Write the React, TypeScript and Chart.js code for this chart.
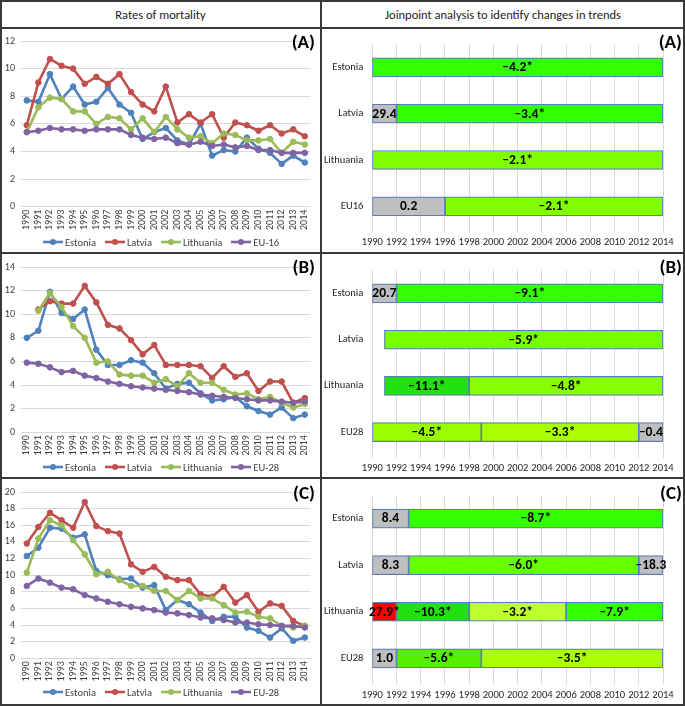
import React, { useEffect, useRef } from 'react';
import { Chart, registerables } from 'chart.js';

Chart.register(...registerables);

// ---------- DATA ----------
const years = ['1990','1991','1992','1993','1994','1995','1996','1997','1998','1999','2000','2001','2002','2003','2004','2005','2006','2007','2008','2009','2010','2011','2012','2013','2014'];
const seriesNames = ['Estonia', 'Latvia', 'Lithuania'];

// Panel A
const estoniaA = [7.7,7.6,9.6,7.8,8.7,7.4,7.6,8.6,7.4,6.8,4.9,5.4,5.7,4.8,4.5,6.0,3.7,4.1,4.0,5.0,4.2,3.9,3.1,3.7,3.2];
const latviaA = [5.9,9.0,10.7,10.2,10.0,8.9,9.4,8.9,9.6,8.3,7.4,6.9,8.7,6.1,6.7,6.1,6.7,5.0,6.1,5.9,5.5,5.9,5.3,5.6,5.1];
const lithuaniaA = [5.4,7.2,7.9,7.8,6.9,6.9,6.0,6.5,6.4,5.6,6.4,5.4,6.5,5.6,5.0,5.1,4.6,5.3,5.2,4.8,4.8,4.9,3.9,4.7,4.5];
const euA = [5.4,5.5,5.7,5.6,5.6,5.5,5.6,5.6,5.6,5.2,5.0,4.9,5.0,4.6,4.5,4.7,4.4,4.5,4.3,4.4,4.1,4.1,3.9,3.9,3.9];
const euNameA = 'EU-16';

// Panel B
const estoniaB = [8.0,8.6,11.9,10.1,9.6,10.4,7.0,5.7,5.7,6.1,5.9,5.0,3.7,4.1,4.2,3.3,2.7,2.8,3.0,2.2,1.8,1.5,2.1,1.2,1.5];
const latviaB = [null,10.4,11.1,10.9,10.9,12.4,11.0,9.1,8.8,7.8,6.6,7.4,5.7,5.7,5.7,5.6,4.6,5.6,4.7,5.0,3.5,4.3,4.3,2.5,2.9];
const lithuaniaB = [null,10.3,11.8,10.6,9.0,8.0,5.9,6.0,4.9,4.8,4.8,4.2,4.5,3.9,5.0,4.2,4.2,3.6,3.2,3.3,2.8,3.0,2.5,2.1,2.4];
const euB = [5.9,5.8,5.5,5.1,5.2,4.8,4.6,4.3,4.1,3.9,3.8,3.7,3.6,3.5,3.4,3.2,3.1,3.0,2.9,2.8,2.7,2.7,2.6,2.5,2.6];
const euNameB = 'EU-28';

// Panel C
const estoniaC = [12.3,13.3,15.7,15.6,14.5,14.9,10.5,10.0,9.5,9.6,8.5,8.8,5.8,7.0,6.5,5.5,4.5,5.0,5.0,3.7,3.3,2.5,3.6,2.1,2.5];
const latviaC = [13.8,15.8,17.5,16.6,15.7,18.8,15.9,15.3,15.0,11.3,10.4,11.0,9.8,9.4,9.4,7.7,7.4,8.6,6.7,7.6,5.6,6.6,6.3,4.5,3.9];
const lithuaniaC = [10.3,14.4,16.6,16.0,14.2,12.5,10.1,10.4,9.4,8.7,8.7,8.1,8.1,7.0,8.1,7.2,7.2,6.4,5.5,5.6,5.0,4.8,3.9,3.7,3.9];
const euC = [8.7,9.6,9.1,8.5,8.3,7.6,7.2,6.8,6.5,6.2,6.0,5.8,5.5,5.4,5.2,4.9,4.8,4.6,4.3,4.3,4.1,4.0,3.9,3.9,3.7];
const euNameC = 'EU-28';

const yMaxA = 12;
const yMaxB = 14;
const yMaxC = 20;

// Joinpoint panels: segment breakpoints (years) and annual percent change labels
const jpCountriesA = ['Estonia', 'Latvia', 'Lithuania', 'EU16'];
const jpBreaksA = [[1990, 2014], [1990, 1992, 2014], [1990, 2014], [1990, 1996, 2014]];
const jpApcA = [['–4.2*'], ['29.4', '–3.4*'], ['–2.1*'], ['0.2', '–2.1*']];

const jpCountriesB = ['Estonia', 'Latvia', 'Lithuania', 'EU28'];
const jpBreaksB = [[1990, 1992, 2014], [1991, 2014], [1991, 1998, 2014], [1990, 1999, 2012, 2014]];
const jpApcB = [['20.7', '–9.1*'], ['–5.9*'], ['–11.1*', '–4.8*'], ['–4.5*', '–3.3*', '–0.4']];

const jpCountriesC = ['Estonia', 'Latvia', 'Lithuania', 'EU28'];
const jpBreaksC = [[1990, 1993, 2014], [1990, 1993, 2012, 2014], [1990, 1992, 1998, 2006, 2014], [1990, 1992, 1999, 2014]];
const jpApcC = [['8.4', '–8.7*'], ['8.3', '–6.0*', '–18.3'], ['27.9*', '–10.3*', '–3.2*', '–7.9*'], ['1.0', '–5.6*', '–3.5*']];

const jpXMin = 1990;
const jpXMax = 2014;

// ---------- STYLES ----------
const FONT = "Carlito, Lato, 'Liberation Sans', sans-serif";
const LINE_COLORS = ['#4F81BD', '#C0504D', '#9BBB59', '#8064A2'];
const GRAY = '#BFBFBF';
const RED = '#FF0000';
const G1 = '#33FF00';
const G_DARK = '#22E011';
const G_55 = '#55F000';
const G_66 = '#66FF00';
const G_77 = '#77FF00';
const G_88 = '#88FF00';
const G_80 = '#80FF00';
const G_99 = '#99FF00';
const G_AA = '#AAFF00';
const G_LIGHT = '#BDFF33';

const jpColorsA = [[G1], [GRAY, G1], [G_80], [GRAY, G_80]];
const jpColorsB = [[GRAY, G1], [G_77], [G_DARK, G_88], [G_99, G_AA, GRAY]];
const jpColorsC = [[GRAY, G1], [GRAY, G_66, GRAY], [RED, G_DARK, G_LIGHT, G1], [GRAY, G_55, G_AA]];

const LINE_CLR = '#3a3a3a';

type Box = { x: number; y: number; w: number; h: number };
type Plot = { l: number; t: number; r: number; b: number };

function LinePanel(props: { box: Box; plot: Plot; yMax: number; data: (number | null)[][]; names: string[] }) {
  const ref = useRef<HTMLCanvasElement>(null);
  const { box, plot, yMax, data, names } = props;
  useEffect(() => {
    const YW = 19;
    const XH = 28;
    const pad = {
      left: plot.l - box.x - YW,
      top: plot.t - box.y,
      right: box.x + box.w - plot.r,
      bottom: box.y + box.h - plot.b - XH,
    };
    const chart = new Chart(ref.current as HTMLCanvasElement, {
      type: 'line',
      data: {
        labels: years,
        datasets: data.map((d, i) => ({
          label: names[i],
          data: d,
          borderColor: LINE_COLORS[i],
          backgroundColor: LINE_COLORS[i],
          pointBackgroundColor: LINE_COLORS[i],
          pointBorderColor: LINE_COLORS[i],
          borderWidth: 2.6,
          pointRadius: 2.8,
          pointBorderWidth: 1,
          tension: 0,
          fill: false,
          order: data.length - i,
        })),
      },
      options: {
        animation: false,
        responsive: false,
        maintainAspectRatio: false,
        layout: { padding: pad },
        plugins: { legend: { display: false }, tooltip: { enabled: false } },
        scales: {
          x: {
            type: 'category',
            offset: true,
            grid: { display: false, drawTicks: false },
            border: { display: false },
            ticks: { minRotation: 90, maxRotation: 90, autoSkip: false, padding: 3, color: '#404040', font: { family: FONT, size: 10 } },
            afterFit: (s: any) => { s.height = XH; },
          },
          y: {
            min: 0,
            max: yMax,
            ticks: { stepSize: 2, padding: 6, color: '#404040', font: { family: FONT, size: 10 } },
            grid: { color: '#D9D9D9', drawTicks: false, lineWidth: 1 },
            border: { display: false },
            afterFit: (s: any) => { s.width = YW; },
          },
        },
      } as any,
    });
    return () => chart.destroy();
  }, []);
  return (
    <canvas
      ref={ref}
      width={box.w}
      height={box.h}
      style={{ position: 'absolute', left: box.x, top: box.y, width: box.w, height: box.h }}
    />
  );
}

const segLabelPlugin = {
  id: 'segLabels',
  afterDatasetsDraw(chart: any) {
    const ctx = chart.ctx;
    ctx.save();
    ctx.font = `bold 13.5px ${FONT}`;
    ctx.fillStyle = '#000';
    ctx.textAlign = 'center';
    ctx.textBaseline = 'middle';
    chart.data.datasets.forEach((ds: any, i: number) => {
      const meta = chart.getDatasetMeta(i);
      meta.data.forEach((el: any, j: number) => {
        const txt = ds.segLabels[j];
        if (!txt || ds.data[j] == null) return;
        const p = el.getProps(['x', 'y', 'base'], true);
        ctx.fillText(txt, (p.x + p.base) / 2, p.y + 0.5);
      });
    });
    ctx.restore();
  },
};

function JoinpointPanel(props: { box: Box; plot: Plot; countries: string[]; breaks: number[][]; apc: string[][]; colors: string[][] }) {
  const ref = useRef<HTMLCanvasElement>(null);
  const { box, plot, countries, breaks, apc, colors } = props;
  useEffect(() => {
    const YW = plot.l - box.x;
    const XH = 22;
    const pad = {
      left: 0,
      top: plot.t - box.y,
      right: box.x + box.w - plot.r,
      bottom: box.y + box.h - plot.b - XH,
    };
    const nSeg = Math.max(...breaks.map((b) => b.length - 1));
    const datasets: any[] = [];
    for (let k = 0; k < nSeg; k++) {
      datasets.push({
        data: breaks.map((b) => (k < b.length - 1 ? [b[k], b[k + 1]] : null)),
        backgroundColor: colors.map((c) => c[k] || 'rgba(0,0,0,0)'),
        borderColor: '#5B7DB5',
        borderWidth: 1.2,
        borderSkipped: false,
        barThickness: 19,
        grouped: false,
        segLabels: apc.map((a) => a[k] || ''),
      });
    }
    const chart = new Chart(ref.current as HTMLCanvasElement, {
      type: 'bar',
      data: { labels: countries, datasets },
      plugins: [segLabelPlugin],
      options: {
        indexAxis: 'y',
        animation: false,
        responsive: false,
        maintainAspectRatio: false,
        layout: { padding: pad },
        plugins: { legend: { display: false }, tooltip: { enabled: false } },
        scales: {
          x: {
            type: 'linear',
            min: jpXMin,
            max: jpXMax,
            ticks: {
              stepSize: 2,
              padding: 4,
              color: '#262626',
              font: { family: FONT, size: 10.5 },
              autoSkip: false,
              maxRotation: 0,
              callback: (v: any) => String(v),
            },
            grid: { color: '#D9D9D9', drawTicks: true, tickLength: 3, tickColor: '#D9D9D9' },
            border: { display: false },
            afterFit: (s: any) => { s.height = XH; },
          },
          y: {
            type: 'category',
            offset: true,
            grid: { display: false, drawTicks: false },
            border: { display: false },
            ticks: { padding: 9, color: '#262626', font: { family: FONT, size: 10.5 } },
            afterFit: (s: any) => { s.width = YW; },
          },
        },
      } as any,
    });
    return () => chart.destroy();
  }, []);
  return (
    <canvas
      ref={ref}
      width={box.w}
      height={box.h}
      style={{ position: 'absolute', left: box.x, top: box.y, width: box.w, height: box.h }}
    />
  );
}

function Legend(props: { top: number; names: string[] }) {
  return (
    <div
      style={{
        position: 'absolute', left: 2, width: 318, top: props.top - 7, height: 14,
        display: 'flex', justifyContent: 'center', alignItems: 'center', gap: 9,
        fontFamily: FONT, fontSize: 10.5, color: '#404040',
      }}
    >
      {props.names.map((n, i) => (
        <div key={n} style={{ display: 'flex', alignItems: 'center', gap: 2 }}>
          <svg width={20} height={8} style={{ display: 'block' }}>
            <line x1={0} y1={4} x2={20} y2={4} stroke={LINE_COLORS[i]} strokeWidth={2.6} />
            <circle cx={10} cy={4} r={3} fill={LINE_COLORS[i]} />
          </svg>
          <span>{n}</span>
        </div>
      ))}
    </div>
  );
}

function Tag(props: { text: string; right: number; cy: number }) {
  return (
    <div
      style={{
        position: 'absolute', right: 685 - props.right, top: props.cy - 10, height: 20, lineHeight: '20px',
        fontFamily: FONT, fontWeight: 700, fontSize: 19, color: '#000',
      }}
    >
      {props.text}
    </div>
  );
}

function HLine(props: { y: number }) {
  return <div style={{ position: 'absolute', left: 0, width: 685, top: props.y, height: 2, background: LINE_CLR }} />;
}

export default function App() {
  useEffect(() => {
    document.body.style.margin = '0';
  }, []);
  const namesA = [...seriesNames, euNameA];
  const namesB = [...seriesNames, euNameB];
  const namesC = [...seriesNames, euNameC];
  return (
    <div style={{ position: 'relative', width: 685, height: 706, background: '#fff', overflow: 'hidden' }}>
      {/* headers */}
      <div style={{ position: 'absolute', left: 0, width: 321, top: 0, height: 28, display: 'flex', alignItems: 'center', justifyContent: 'center', fontFamily: FONT, fontSize: 12.5, color: '#222' }}>
        Rates of mortality
      </div>
      <div style={{ position: 'absolute', left: 321, width: 364, top: 0, height: 28, display: 'flex', alignItems: 'center', justifyContent: 'center', fontFamily: FONT, fontSize: 12.5, color: '#222' }}>
        Joinpoint analysis to identify changes in trends
      </div>

      {/* left column: rates */}
      <LinePanel box={{ x: 2, y: 29, w: 318, h: 210 }} plot={{ l: 21, t: 37.3, r: 311, b: 206.7 }} yMax={yMaxA} data={[estoniaA, latviaA, lithuaniaA, euA]} names={namesA} />
      <Legend top={242} names={namesA} />
      <LinePanel box={{ x: 2, y: 255, w: 318, h: 210 }} plot={{ l: 21, t: 263.3, r: 311, b: 432.3 }} yMax={yMaxB} data={[estoniaB, latviaB, lithuaniaB, euB]} names={namesB} />
      <Legend top={467} names={namesB} />
      <LinePanel box={{ x: 2, y: 480, w: 318, h: 210 }} plot={{ l: 21, t: 489, r: 311, b: 658.3 }} yMax={yMaxC} data={[estoniaC, latviaC, lithuaniaC, euC]} names={namesC} />
      <Legend top={692} names={namesC} />

      {/* right column: joinpoint */}
      <JoinpointPanel box={{ x: 322, y: 29, w: 362, h: 224 }} plot={{ l: 372.3, t: 38.6, r: 663, b: 229.4 }} countries={jpCountriesA} breaks={jpBreaksA} apc={jpApcA} colors={jpColorsA} />
      <JoinpointPanel box={{ x: 322, y: 255, w: 362, h: 222 }} plot={{ l: 372.3, t: 265, r: 663, b: 455.2 }} countries={jpCountriesB} breaks={jpBreaksB} apc={jpApcB} colors={jpColorsB} />
      <JoinpointPanel box={{ x: 322, y: 480, w: 362, h: 224 }} plot={{ l: 372.3, t: 491.2, r: 663, b: 681.6 }} countries={jpCountriesC} breaks={jpBreaksC} apc={jpApcC} colors={jpColorsC} />

      {/* panel tags */}
      <Tag text="(A)" right={315} cy={42} />
      <Tag text="(A)" right={682} cy={42} />
      <Tag text="(B)" right={315} cy={267} />
      <Tag text="(B)" right={682} cy={267} />
      <Tag text="(C)" right={315} cy={493} />
      <Tag text="(C)" right={682} cy={493} />

      {/* table borders */}
      <div style={{ position: 'absolute', left: 0, top: 0, width: 685, height: 706, boxSizing: 'border-box', border: `2px solid ${LINE_CLR}` }} />
      <HLine y={27} />
      <HLine y={252} />
      <HLine y={477} />
      <div style={{ position: 'absolute', left: 320, top: 0, width: 2, height: 706, background: LINE_CLR }} />
    </div>
  );
}
